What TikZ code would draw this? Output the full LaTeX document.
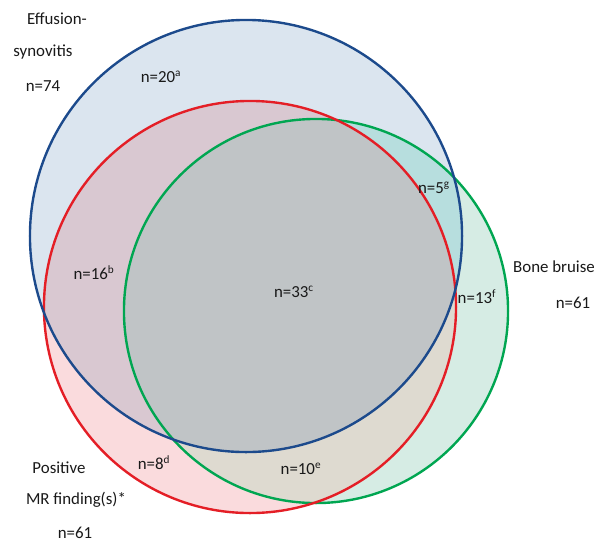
\documentclass[tikz,border=0pt]{standalone}
\usepackage{fontspec}
\setmainfont{Carlito}
\usepackage{tikz}
\usetikzlibrary{positioning}
\definecolor{effline}{RGB}{28,74,140}
\definecolor{mrline}{RGB}{228,30,38}
\definecolor{boneline}{RGB}{0,166,81}
\definecolor{effonly}{RGB}{219,229,239}
\definecolor{mronly}{RGB}{250,219,221}
\definecolor{boneonly}{RGB}{214,236,228}
\definecolor{effmr}{RGB}{217,200,209}
\definecolor{effbone}{RGB}{183,222,222}
\definecolor{mrbone}{RGB}{222,218,208}
\definecolor{allthree}{RGB}{192,196,198}

\begin{document}
\begin{tikzpicture}[
    x=0.025cm, y=-0.025cm,
    lbl/.style={font=\fontsize{12}{14}\selectfont, text=black!90, inner sep=0pt},
    ring/.style={line width=1.7pt}
]
\useasboundingbox (0,0) rectangle (599,542);

\coordinate (effc) at (246,236);
\coordinate (mrc) at (250,307);
\coordinate (bonec) at (316,311);

% single sets
\fill[effonly] (effc) circle[radius=5.4cm];
\fill[mronly] (mrc) circle[radius=5.15cm];
\fill[boneonly] (bonec) circle[radius=4.8cm];

% overlaps
\begin{scope}
    \clip (effc) circle[radius=5.4cm];
    \fill[effmr] (mrc) circle[radius=5.15cm];
    \fill[effbone] (bonec) circle[radius=4.8cm];
\end{scope}
\begin{scope}
    \clip (mrc) circle[radius=5.15cm];
    \fill[mrbone] (bonec) circle[radius=4.8cm];
    \clip (effc) circle[radius=5.4cm];
    \fill[allthree] (bonec) circle[radius=4.8cm];
\end{scope}

% outlines
\draw[ring, boneline] (bonec) circle[radius=4.8cm];
\draw[ring, mrline] (mrc) circle[radius=5.15cm];
\draw[ring, effline] (effc) circle[radius=5.4cm];

% set titles
\node[lbl] (efftitle) at (57,19) {Effusion-};
\node[lbl] (effsub) at (43,52) {synovitis};
\node[lbl] (effn) at (43,86) {n=74};
\node[lbl] (bonetitle) at (554,267) {Bone bruise};
\node[lbl] (bonen) at (573,303) {n=61};
\node[lbl] (mrtitle) at (59,468) {Positive};
\node[lbl] (mrsub) at (76,500) {MR finding(s)*};
\node[lbl] (mrn) at (75,533) {n=61};

% region counts
\node[lbl] (n20) at (161,77) {n=20\textsuperscript{a}};
\node[lbl] (n16) at (94,273) {n=16\textsuperscript{b}};
\node[lbl] (n33) at (294,292) {n=33\textsuperscript{c}};
\node[lbl] (n5) at (434,188) {n=5\textsuperscript{g}};
\node[lbl] (n13) at (477,297) {n=13\textsuperscript{f}};
\node[lbl] (n8) at (154,463) {n=8\textsuperscript{d}};
\node[lbl] (n10) at (301,469) {n=10\textsuperscript{e}};
\end{tikzpicture}
\end{document}
